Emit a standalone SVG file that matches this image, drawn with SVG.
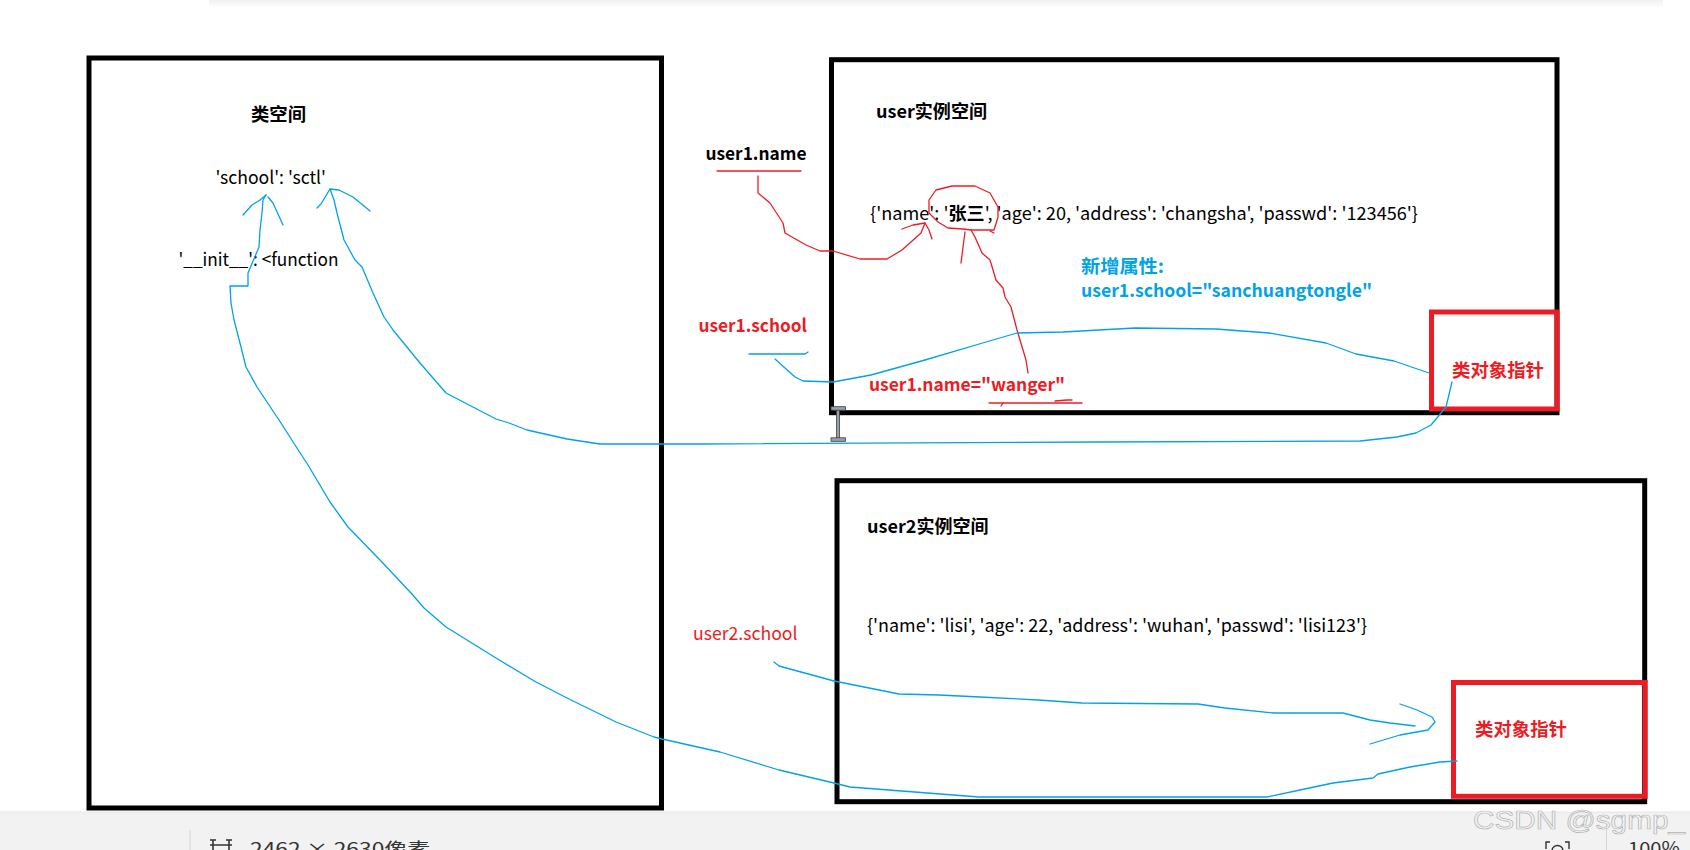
<svg xmlns="http://www.w3.org/2000/svg" width="1690" height="850" viewBox="0 0 1690 850">
<defs>
<linearGradient id="topShade" x1="0" y1="0" x2="0" y2="1">
<stop offset="0" stop-color="#f0f0f0"/>
<stop offset="1" stop-color="#ffffff"/>
</linearGradient>
<style>
.box{fill:none;stroke:#000;stroke-width:5}
.rbox{fill:none;stroke:#ED1C24;stroke-width:5}
.t{font-family:"Noto Sans CJK SC","Noto Sans",sans-serif;font-size:18px;fill:#000}
.b{font-weight:bold}
.red{fill:#ED1C24}
.blue{fill:#00A2E8}
.bl{fill:none;stroke:#00A2E8;stroke-width:1.3;stroke-linejoin:round;stroke-linecap:round}
.rl{fill:none;stroke:#ED1C24;stroke-width:1.3;stroke-linejoin:round;stroke-linecap:round}
.ui{font-family:"Noto Sans CJK SC","Noto Sans",sans-serif;font-size:18px;fill:#333}
</style>
</defs>
<rect width="1690" height="850" fill="#fff"/>
<rect x="209" y="0" width="1454" height="8" fill="url(#topShade)"/>

<g id="class-space">
<rect class="box" x="89" y="58" width="572.5" height="750"/>
<text class="t b" x="251" y="121" textLength="55" lengthAdjust="spacingAndGlyphs">类空间</text>
<text class="t" x="215.5" y="184" textLength="110.5" lengthAdjust="spacingAndGlyphs">'school': 'sctl'</text>
<text class="t" x="178.5" y="266" textLength="160" lengthAdjust="spacingAndGlyphs">'__init__': &lt;function</text>
</g>

<g id="user1-space">
<rect class="box" x="831.5" y="59.7" width="725.5" height="353"/>
<text class="t b" x="876" y="117.5" textLength="111" lengthAdjust="spacingAndGlyphs">user实例空间</text>
<text class="t" x="870" y="220" textLength="548" lengthAdjust="spacingAndGlyphs">{'name': '<tspan class="b">张三</tspan>', 'age': 20, 'address': 'changsha', 'passwd': '123456'}</text>
<text class="t b blue" x="1081" y="273" textLength="83" lengthAdjust="spacingAndGlyphs">新增属性:</text>
<text class="t b blue" x="1081" y="297" textLength="291" lengthAdjust="spacingAndGlyphs">user1.school="sanchuangtongle"</text>
<text class="t b red" x="869" y="391" textLength="196" lengthAdjust="spacingAndGlyphs">user1.name="wanger"</text>
</g>

<g id="user1-pointer">
<rect class="rbox" x="1431.5" y="312" width="125.5" height="97"/>
<text class="t b red" x="1452" y="377" textLength="92" lengthAdjust="spacingAndGlyphs">类对象指针</text>
</g>

<g id="user2-space">
<rect class="box" x="837" y="480.7" width="807.7" height="321"/>
<text class="t b" x="867" y="533" textLength="121.5" lengthAdjust="spacingAndGlyphs">user2实例空间</text>
<text class="t" x="867" y="632" textLength="500" lengthAdjust="spacingAndGlyphs">{'name': 'lisi', 'age': 22, 'address': 'wuhan', 'passwd': 'lisi123'}</text>
</g>

<g id="user2-pointer">
<rect class="rbox" x="1453.5" y="682.5" width="191.7" height="113.8"/>
<text class="t b red" x="1475" y="736" textLength="92" lengthAdjust="spacingAndGlyphs">类对象指针</text>
</g>

<g id="label-user1-name">
<text class="t b" x="705.5" y="160" textLength="101" lengthAdjust="spacingAndGlyphs">user1.name</text>
</g>
<g id="label-user1-school">
<text class="t b red" x="698.5" y="332" textLength="108.5" lengthAdjust="spacingAndGlyphs">user1.school</text>
</g>
<g id="label-user2-school">
<text class="t red" x="693" y="640" textLength="104.5" lengthAdjust="spacingAndGlyphs">user2.school</text>
</g>

<g id="connectors">
<!-- red: user1.name -> 张三 -->
<path class="rl" d="M717,171 L801,171"/>
<path class="rl" d="M758,176 L758,193 L770,203 L783,223 L785,233 L806,245 L820,251 L833,251 L860,259 L887,259 L902,250 L921,233 L925,223"/>
<path class="rl" d="M902,229 L913,225 L925,223 L929,230 L932,239"/>
<path class="rl" d="M929,213 L929,200 L936,190 L952,186 L975,186 L990,193 L998,207 L998,217 L994,230 L971,230 L963,229 L948,228 L938,222 Z"/>
<path class="rl" d="M990,231 L994,233"/>
<!-- red: wanger -> 张三 -->
<path class="rl" d="M1028,373 L1026,360 L1017,330 L1011,307 L1005,297 L1003,288 L996,280 L990,260 L982,253 L975,237 L971,230"/>
<path class="rl" d="M965,232 L963,247 L961,263"/>
<path class="rl" d="M989,403 L1082,403"/>
<path class="rl" d="M1001,406 L1003,403 M1055,401 L1067,400 L1072,400"/>

<!-- blue: user1.school -> pointer -> 'sctl' -->
<path class="bl" d="M749,354 L805,354 L808,352"/>
<path class="bl" d="M775,359 L795,377 L803,381 L833,382 L871,375 L925,360 L986,342 L1017,333 L1063,332 L1135,328 L1216,329 L1269,333 L1326,343 L1356,354 L1394,361 L1429,373"/>
<path class="bl" d="M1452,382 L1446,407 L1431,425 L1416,433 L1397,437 L1360,441 L1100,442 L700,444 L600,444 L567,439 L527,430 L509,423 L496,419 L446,393 L420,363 L393,330 L384,317 L373,293 L362,267 L355,260 L344,240 L337,213 L334,200 L330,189"/>
<path class="bl" d="M317,208 L321,204 L330,189 L339,190 L353,197 L370,211"/>

<!-- blue: user2 pointer -> 'school' -->
<path class="bl" d="M1457,761 L1440,762 L1410,767 L1378,774 L1373,778 L1333,783 L1300,790 L1267,797 L1200,797 L979,797 L850,787 L834,783 L779,770 L720,752 L662,739 L654,737 L616,722 L567,698 L536,682 L496,658 L446,627 L424,608 L411,593 L380,560 L348,527 L330,502 L308,465 L295,445 L281,423 L257,387 L246,367 L241,347 L234,320 L231,303 L230,286 L248,286 L248,273 L259,247 L260,230 L262,213 L263,200 L266,195"/>
<path class="bl" d="M243,215 L252,205 L260,200 L266,195 M268,197 L273,203 L283,225"/>

<!-- blue: user2.school -> pointer -->
<path class="bl" d="M774,662 L779,666 L801,672 L834,681 L899,694 L939,695 L980,697 L1038,700 L1082,703 L1198,704 L1225,708 L1274,713 L1343,713 L1370,720 L1390,723 L1415,726"/>
<path class="bl" d="M1400,704 L1417,710 L1432,717 L1435,722 L1428,730 L1400,735 L1370,744"/>
</g>

<g id="cursor">
<rect x="836.5" y="409" width="3" height="30" fill="#9aa0a8" stroke="#3a3f48" stroke-width="0.8"/>
<rect x="831" y="406.7" width="14.5" height="3.5" fill="#9aa0a8" stroke="#3a3f48" stroke-width="0.8"/>
<rect x="831" y="437.8" width="14.5" height="3.5" fill="#9aa0a8" stroke="#3a3f48" stroke-width="0.8"/>
</g>

<g id="status-bar">
<rect x="0" y="812" width="1690" height="38" fill="#F2F2F2"/>
<line x1="0" y1="812" x2="1690" y2="812" stroke="#e6e6e6" stroke-width="1"/>
<line x1="190" y1="830" x2="190" y2="850" stroke="#d6d6d6" stroke-width="1"/>
<line x1="1606.5" y1="823" x2="1606.5" y2="850" stroke="#d6d6d6" stroke-width="1"/>
<path d="M213,840 L213,852 M229,840 L229,852 M210,845 L232,845 M210,840 L216,840 M226,840 L232,840" fill="none" stroke="#333" stroke-width="1.6"/>
<text class="ui" x="250" y="856" textLength="180" lengthAdjust="spacingAndGlyphs">2462 × 2630像素</text>
<path d="M1546,849 L1546,842 L1550,842 M1565,842 L1569,842 L1569,849" fill="none" stroke="#333" stroke-width="1.4"/>
<circle cx="1557.5" cy="851" r="5.5" fill="none" stroke="#333" stroke-width="1.4"/>
<text class="ui" x="1628" y="855" textLength="52" lengthAdjust="spacingAndGlyphs">100%</text>
<text x="1473" y="828.5" font-family="'Liberation Sans',Arial,sans-serif" font-size="26.5" fill="#f4f4f4" stroke="#b4b4b4" stroke-width="0.7" textLength="212" lengthAdjust="spacingAndGlyphs">CSDN @sgmp_</text>
</g>
</svg>
